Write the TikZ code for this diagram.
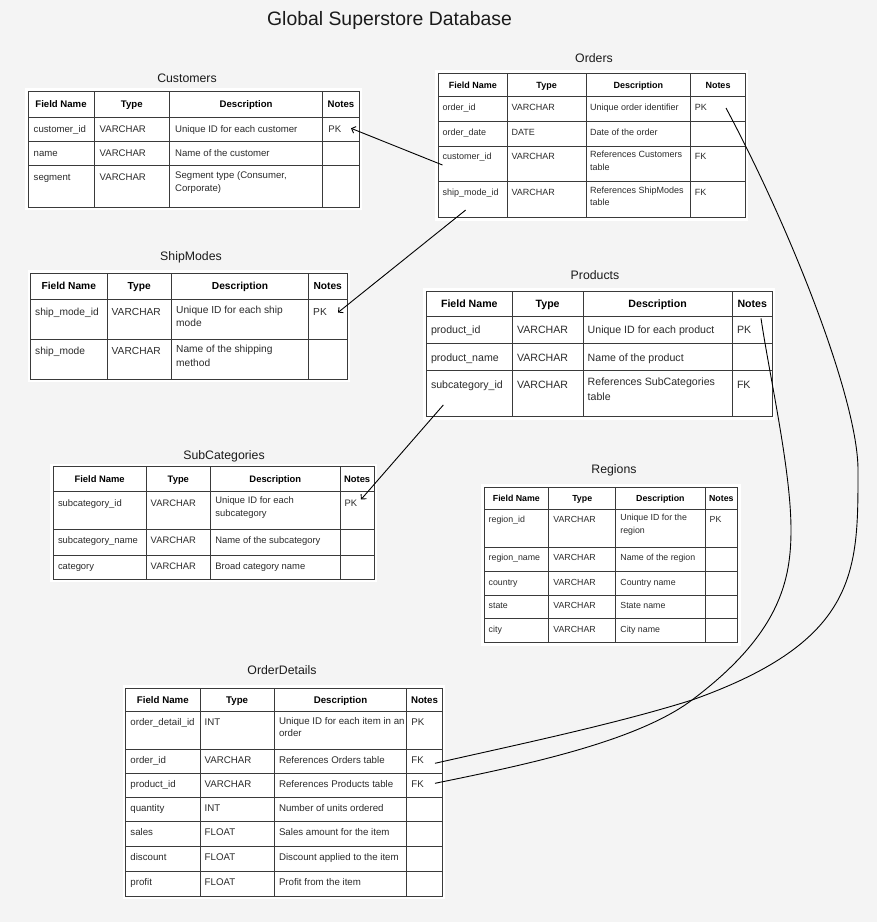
\documentclass[tikz,border=0pt]{standalone}
\usepackage{fontspec}
\setmainfont{Liberation Sans}
\usetikzlibrary{arrows.meta}
\definecolor{bg}{HTML}{F4F4F4}
\definecolor{gridc}{HTML}{3A3A3A}
\definecolor{txt}{HTML}{2B2B2B}
\definecolor{ttlc}{HTML}{1A1A1A}
\tikzset{
 tbl/.style={draw=gridc, line width=0.8pt},
 hd/.style={inner sep=0pt, anchor=base, text=black, execute at begin node=\bfseries},
 cl/.style={inner sep=0pt, anchor=north west, align=left, text=txt, execute at begin node=\strut},
 ttl/.style={inner sep=0pt, text=ttlc, font=\fontsize{12.3}{15}\selectfont},
 conn/.style={draw=black, line width=0.9pt},
 arr/.style={conn, -{Straight Barb[length=3.5pt,width=7pt]}},
}
\newcommand\tset[8]{\def\xa{#1}\def\xb{#2}\def\xc{#3}\def\xd{#4}\def\xe{#5}\def\pd{#6}\def\tp{#7}\def\hs{#8}}
\newcommand\tframe[3]{%
  \fill[white] ({\xa-3},{#1-3}) rectangle ({\xe+3},{#2+3});
  \draw[tbl] (\xa,#1) rectangle (\xe,#2);
  \foreach \x in {\xb,\xc,\xd} {\draw[tbl] (\x,#1) -- (\x,#2);}
  \foreach \y in {#3} {\draw[tbl] (\xa,\y) -- (\xe,\y);}}
\newcommand\thead[3]{%
  \node[hd] (#1-h1) at ({(\xa+\xb)/2},{(#2+#3)/2+\hs}) {Field Name};
  \node[hd] (#1-h2) at ({(\xb+\xc)/2},{(#2+#3)/2+\hs}) {Type};
  \node[hd] (#1-h3) at ({(\xc+\xd)/2},{(#2+#3)/2+\hs}) {Description};
  \node[hd] (#1-h4) at ({(\xd+\xe)/2},{(#2+#3)/2+\hs}) {Notes};}
\newcommand\trow[6]{%
  \node[cl] (#1a) at ({\xa+\pd},{#2+\tp}) {#3};
  \node[cl] (#1b) at ({\xb+\pd},{#2+\tp}) {#4};
  \node[cl] (#1c) at ({\xc+\pd},{#2+\tp}) {#5};
  \node[cl] (#1d) at ({\xd+\pd},{#2+\tp}) {#6};}
\begin{document}
\begin{tikzpicture}[x=1pt,y=-1pt]
\fill[bg] (0,0) rectangle (877,922);
\useasboundingbox (0,0) rectangle (877,922);

\node[inner sep=0pt, text=ttlc, font=\fontsize{19.4}{22}\selectfont] (title) at (389.5,20) {Global Superstore Database};

% ---------- Customers ----------
\begin{scope}[font=\fontsize{9.6}{13.4}\selectfont]
\tset{28}{94}{169.5}{322.7}{359.3}{5.5}{5.5}{3.4}
\tframe{91}{207}{117,141.5,165.5}
\thead{cu}{91}{117}
\trow{cu-1}{117}{customer\_id}{VARCHAR}{Unique ID for each customer}{PK}
\trow{cu-2}{141.5}{name}{VARCHAR}{Name of the customer}{}
\trow{cu-3}{165.5}{segment}{VARCHAR}{Segment type (Consumer,\\Corporate)}{}
\end{scope}
\node[ttl] (cu-t) at (187,78) {Customers};

% ---------- Orders ----------
\begin{scope}[font=\fontsize{9}{12.7}\selectfont]
\tset{438.3}{507.3}{586}{690.7}{745.3}{4}{4.8}{3.2}
\tframe{73.3}{217.8}{96.7,121.3,146,181.7}
\thead{or}{73.3}{96.7}
\trow{or-1}{96.7}{order\_id}{VARCHAR}{Unique order identifier}{PK}
\trow{or-2}{121.3}{order\_date}{DATE}{Date of the order}{}
\trow{or-3}{146}{customer\_id}{VARCHAR}{References Customers\\table}{FK}
\trow{or-4}{181.7}{ship\_mode\_id}{VARCHAR}{References ShipModes\\table}{FK}
\end{scope}
\node[ttl] (or-t) at (594,58) {Orders};

% ---------- ShipModes ----------
\begin{scope}[font=\fontsize{10.2}{13.3}\selectfont]
\tset{30.5}{107}{171.5}{308.5}{347}{4.5}{6.2}{3.6}
\tframe{273.3}{379.3}{299.3,339}
\thead{sm}{273.3}{299.3}
\trow{sm-1}{299.3}{ship\_mode\_id}{VARCHAR}{Unique ID for each ship\\mode}{PK}
\trow{sm-2}{339}{ship\_mode}{VARCHAR}{Name of the shipping\\method}{}
\end{scope}
\node[ttl] (sm-t) at (191,257) {ShipModes};

% ---------- Products ----------
\begin{scope}[font=\fontsize{10.6}{15.5}\selectfont]
\tset{426.3}{512.3}{583}{732.3}{772.3}{4.5}{6.8}{3.8}
\tframe{291}{416.7}{316,343.3,370.7}
\thead{pr}{291}{316}
\trow{pr-1}{316}{product\_id}{VARCHAR}{Unique ID for each product}{PK}
\trow{pr-2}{343.3}{product\_name}{VARCHAR}{Name of the product}{}
\trow{pr-3}{370.7}{subcategory\_id}{VARCHAR}{References SubCategories\\table}{FK}
\end{scope}
\node[ttl] (pr-t) at (595,275) {Products};

% ---------- SubCategories ----------
\begin{scope}[font=\fontsize{9.4}{13}\selectfont]
\tset{53.3}{146}{210.7}{340}{374.3}{4.5}{5.2}{3.4}
\tframe{466.7}{579}{491.7,529.3,555}
\thead{sc}{466.7}{491.7}
\trow{sc-1}{491.7}{subcategory\_id}{VARCHAR}{Unique ID for each\\subcategory}{PK}
\trow{sc-2}{529.3}{subcategory\_name}{VARCHAR}{Name of the subcategory}{}
\trow{sc-3}{555}{category}{VARCHAR}{Broad category name}{}
\end{scope}
\node[ttl] (sc-t) at (224,456) {SubCategories};

% ---------- Regions ----------
\begin{scope}[font=\fontsize{8.8}{12.7}\selectfont]
\tset{484}{548.7}{615.7}{705}{737.7}{4.5}{4.6}{3.2}
\tframe{487.3}{642.7}{509.3,547.3,571.7,595,618.3}
\thead{re}{487.3}{509.3}
\trow{re-1}{509.3}{region\_id}{VARCHAR}{Unique ID for the\\region}{PK}
\trow{re-2}{547.3}{region\_name}{VARCHAR}{Name of the region}{}
\trow{re-3}{571.7}{country}{VARCHAR}{Country name}{}
\trow{re-4}{595}{state}{VARCHAR}{State name}{}
\trow{re-5}{618.3}{city}{VARCHAR}{City name}{}
\end{scope}
\node[ttl] (re-t) at (614,470) {Regions};

% ---------- OrderDetails ----------
\begin{scope}[font=\fontsize{9.7}{12}\selectfont]
\tset{125.7}{200}{274.3}{406.7}{442.3}{4.5}{5.5}{3.5}
\tframe{688.3}{896}{711.7,749,773.3,797.7,821.7,846,871}
\thead{od}{688.3}{711.7}
\trow{od-1}{711.7}{order\_detail\_id}{INT}{Unique ID for each item in an\\order}{PK}
\trow{od-2}{749}{order\_id}{VARCHAR}{References Orders table}{FK}
\trow{od-3}{773.3}{product\_id}{VARCHAR}{References Products table}{FK}
\trow{od-4}{797.7}{quantity}{INT}{Number of units ordered}{}
\trow{od-5}{821.7}{sales}{FLOAT}{Sales amount for the item}{}
\trow{od-6}{846}{discount}{FLOAT}{Discount applied to the item}{}
\trow{od-7}{871}{profit}{FLOAT}{Profit from the item}{}
\end{scope}
\node[ttl] (od-t) at (282,670) {OrderDetails};

% ---------- connectors ----------
\coordinate (a1s) at (442.5,165);
\coordinate (a1e) at (351,128.3);
\coordinate (a2s) at (465.7,210);
\coordinate (a2e) at (338,312.5);
\coordinate (a3s) at (443.3,405);
\coordinate (a3e) at (361,499.5);
\draw[arr] (a1s) -- (a1e);
\draw[arr] (a2s) -- (a2e);
\draw[arr] (a3s) -- (a3e);

\coordinate (c1s) at (726,108);
\coordinate (c1m) at (858,470);
\coordinate (cx) at (692,700);
\coordinate (c1e) at (435,763.3);
\coordinate (c2s) at (761,318.3);
\coordinate (c2m) at (791,530);
\coordinate (c2e) at (435,783.3);
\draw[conn] (c1s) .. controls (791.8,231.2) and (858,400) .. (c1m)
  .. controls (858,570) and (859.4,640.6) .. (cx)
  .. controls (616,724) and (512.6,745.7) .. (c1e);
\draw[conn] (c2s) .. controls (769.8,377.7) and (791,470) .. (c2m)
  .. controls (791,580) and (780,634) .. (cx)
  .. controls (636,742) and (523,765.3) .. (c2e);
\end{tikzpicture}
\end{document}
